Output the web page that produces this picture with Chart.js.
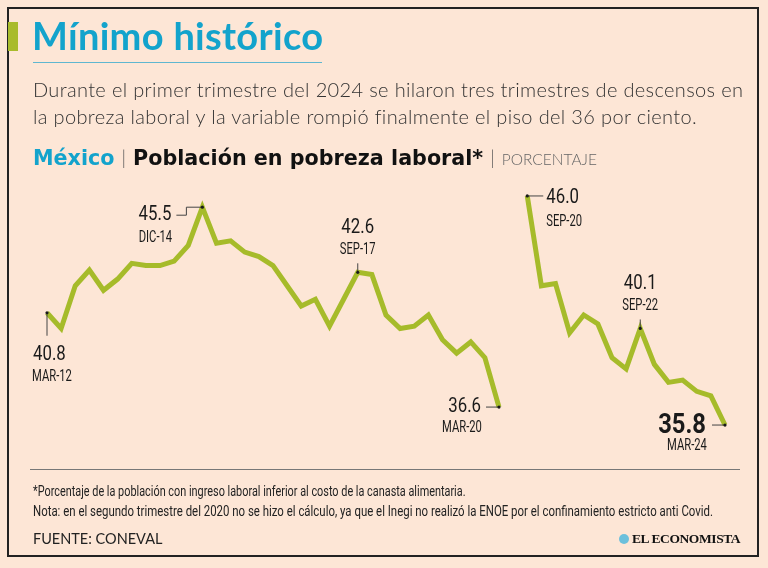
<!DOCTYPE html>
<html>
<head>
<meta charset="utf-8">
<script src="https://cdn.jsdelivr.net/npm/chart.js@4"></script>
<style>
  body { margin: 0; background: #fde6d6; }
  #wrap { position: relative; width: 768px; height: 568px; overflow: hidden; background: #fde6d6; font-family: "Lato", "Noto Sans", sans-serif; }
  #frame { position: absolute; left: 7px; top: 7px; width: 752px; height: 550px; border: 2px solid #222; box-sizing: border-box; }
  #bar { position: absolute; left: 8px; top: 22px; width: 10px; height: 29px; background: #a9bb2c; }
  #title { position: absolute; left: 32px; top: 12px; font-size: 38px; font-weight: 700; color: #13a3cc; letter-spacing: 0.3px; }
  #rule { position: absolute; left: 33px; top: 62px; width: 289px; height: 1px; background: #5fb7d0; }
  #sub { position: absolute; left: 33px; top: 76px; width: 730px; font-size: 20px; font-weight: 300; color: #333; line-height: 27px; letter-spacing: 0.35px; white-space: nowrap; }
  #head { position: absolute; left: 33px; top: 144px; font-size: 20.7px; white-space: nowrap; line-height: 26px; }
  #head .c { color: #13a3cc; font-weight: 700; font-family: "DejaVu Sans", sans-serif; }
  #head .b { color: #111; font-weight: 700; font-family: "DejaVu Sans", sans-serif; }
  #head .s { color: #555; font-weight: 300; margin: 0 7px; font-size: 19px; }
  #head .u { color: #666; font-weight: 300; font-size: 15.5px; }
  #sep { position: absolute; left: 30px; top: 469px; width: 710px; height: 1px; background: #777; }
  .note { position: absolute; left: 33px; font-family: "Roboto", sans-serif; font-size: 14.5px; color: #222; white-space: nowrap; transform-origin: left center; }
  #src { position: absolute; left: 33px; top: 530px; font-size: 14.5px; color: #222; }
  #logo { position: absolute; left: 619px; top: 531px; font-family: "Liberation Serif", "DejaVu Serif", serif; font-weight: 700; font-size: 13.5px; color: #111; letter-spacing: -0.4px; }
  #logo span { display: inline-block; width: 10px; height: 10px; border-radius: 50%; background: #6cc0dc; margin-right: 3px; vertical-align: -1px; }
  canvas { position: absolute; left: 0; top: 0; }
</style>
</head>
<body>
<div id="wrap">
  <canvas id="chart" width="768" height="568"></canvas>
  <div id="frame"></div>
  <div id="bar"></div>
  <div id="title">Mínimo histórico</div>
  <div id="rule"></div>
  <div id="sub">Durante el primer trimestre del 2024 se hilaron tres trimestres de descensos en<br>la pobreza laboral y la variable rompió finalmente el piso del 36 por ciento.</div>
  <div id="head"><span class="c">México</span><span class="s">|</span><span class="b">Población en pobreza laboral*</span><span class="s">|</span><span class="u">PORCENTAJE</span></div>
  <div id="sep"></div>
  <div class="note" style="top:483px; transform: scaleX(0.75)">*Porcentaje de la población con ingreso laboral inferior al costo de la canasta alimentaria.</div>
  <div class="note" style="top:503px; transform: scaleX(0.788)">Nota: en el segundo trimestre del 2020 no se hizo el cálculo, ya que el Inegi no realizó la ENOE por el confinamiento estricto anti Covid.</div>
  <div id="src">FUENTE: CONEVAL</div>
  <div id="logo"><span></span>EL ECONOMISTA</div>
</div>
<script>
const months = ["MAR", "JUN", "SEP", "DIC"];
const quarters = [];
for (let y = 12; y <= 24; y++) {
  for (const m of months) {
    if (y === 24 && m !== "MAR") break;
    quarters.push(m + "-" + y);
  }
}

// Jun-20 has no value (ENOE not carried out)
const pobreza = [
  40.8, 40.1, 42.0, 42.7, 41.8, 42.3, 43.0, 42.9,
  42.9, 43.1, 43.8, 45.5, 43.9, 44.0, 43.5, 43.3,
  42.9, 42.0, 41.1, 41.4, 40.2, 41.4, 42.6, 42.5,
  40.7, 40.1, 40.2, 40.7, 39.6, 39.0, 39.5, 38.8,
  36.6, null, 46.0, 42.0, 42.1, 39.9, 40.7, 40.3,
  38.8, 38.3, 40.1, 38.5, 37.7, 37.8, 37.3, 37.1,
  35.8
];

// labelled points and where their text sits
const callouts = [
  { at: "MAR-12", pos: "below" },
  { at: "DIC-14", pos: "left" },
  { at: "SEP-17", pos: "above" },
  { at: "MAR-20", pos: "leftlow" },
  { at: "SEP-20", pos: "right" },
  { at: "SEP-22", pos: "above" },
  { at: "MAR-24", pos: "last" }
];

// no condensed face installed, so squeeze Roboto horizontally
function narrowText(ctx, t, x, y, align, size, bold, squeeze) {
  ctx.save();
  ctx.font = (bold ? "bold " : "") + size + "px Roboto, sans-serif";
  ctx.textBaseline = "middle";
  ctx.textAlign = align;
  ctx.translate(x, y);
  ctx.scale(squeeze, 1);
  ctx.fillText(t, 0, 0);
  ctx.restore();
}

const calloutPlugin = {
  id: "callouts",
  afterDatasetsDraw(chart) {
    const ctx = chart.ctx;
    const xs = chart.scales.x, ys = chart.scales.y;
    ctx.save();
    ctx.strokeStyle = "#444";
    ctx.fillStyle = "#1a1a1a";
    ctx.lineWidth = 1;
    const line = pts => {
      ctx.beginPath();
      ctx.moveTo(pts[0][0], pts[0][1]);
      pts.slice(1).forEach(p => ctx.lineTo(p[0], p[1]));
      ctx.stroke();
    };
    const val = (t, x, y, a) => narrowText(ctx, t, x, y, a, 21, false, 0.8);
    const date = (t, x, y, a) => narrowText(ctx, t, x, y, a, 17, false, 0.66);
    callouts.forEach(c => {
      const i = quarters.indexOf(c.at);
      const v = pobreza[i];
      const x = xs.getPixelForValue(i);
      const y = ys.getPixelForValue(v);
      const t = v.toFixed(1);
      if (c.pos === "below") {
        line([[x, y], [x, y + 23]]);
        val(t, x - 14, y + 42, "left");
        date(c.at, x - 15, y + 64, "left");
      } else if (c.pos === "left") {
        line([[x, y], [x - 16, y], [x - 16, y + 8], [x - 26, y + 8]]);
        val(t, x - 31, y + 8, "right");
        date(c.at, x - 47, y + 31, "center");
      } else if (c.pos === "above") {
        line([[x, y], [x, y - 9]]);
        val(t, x, y - 45, "center");
        date(c.at, x, y - 23, "center");
      } else if (c.pos === "leftlow") {
        line([[x, y], [x - 13, y]]);
        val(t, x - 18, y, "right");
        date(c.at, x - 37, y + 21, "center");
      } else if (c.pos === "right") {
        line([[x, y], [x + 16, y]]);
        val(t, x + 19, y + 2, "left");
        date(c.at, x + 19, y + 26, "left");
      } else if (c.pos === "last") {
        line([[x, y], [x - 13, y]]);
        narrowText(ctx, t, x - 19, y + 1, "right", 28, true, 0.85);
        date(c.at, x - 38, y + 21, "center");
      }
      ctx.beginPath();
      ctx.arc(x, y, 1.6, 0, Math.PI * 2);
      ctx.fill();
    });
    ctx.restore();
  }
};

new Chart(document.getElementById("chart"), {
  type: "line",
  data: {
    labels: quarters,
    datasets: [{
      data: pobreza,
      borderColor: "#a6bb2a",
      borderWidth: 5,
      pointRadius: 0,
      tension: 0,
      spanGaps: false,
      clip: false,
      borderJoinStyle: "miter"
    }]
  },
  options: {
    responsive: false,
    animation: false,
    layout: { padding: { left: 47, right: 43, top: 178, bottom: 125 } },
    plugins: { legend: { display: false }, tooltip: { enabled: false } },
    scales: {
      x: { display: false, offset: false },
      y: { display: false, min: 35.0, max: 46.8 }
    }
  },
  plugins: [calloutPlugin]
});
</script>
</body>
</html>
